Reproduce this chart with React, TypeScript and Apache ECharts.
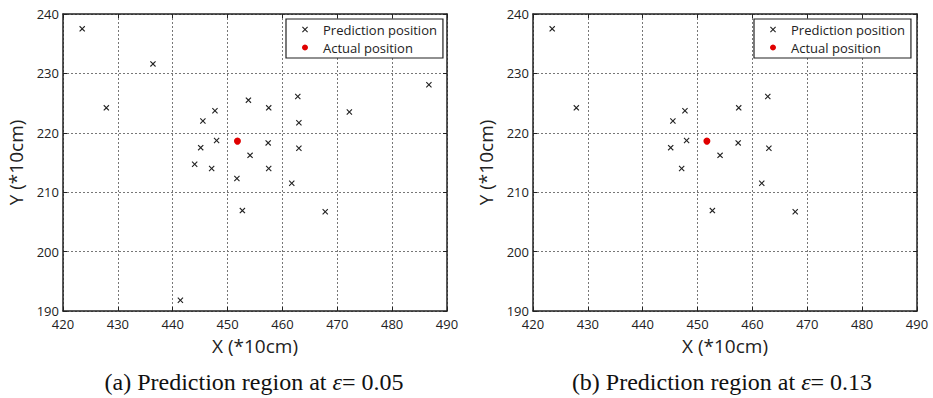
import React, { useEffect, useRef } from "react";
import * as echarts from "echarts";

const xTicks = [420, 430, 440, 450, 460, 470, 480, 490];
const yTicks = [190, 200, 210, 220, 230, 240];

const predictionsA: [number, number][] = [
  [423.5, 237.5], [436.4, 231.6], [427.9, 224.2], [445.5, 222.0], [447.7, 223.7],
  [453.8, 225.5], [457.5, 224.2], [462.8, 226.1], [463.0, 221.7], [472.2, 223.5],
  [486.7, 228.1], [445.1, 217.5], [448.0, 218.7], [454.1, 216.2], [457.4, 218.3],
  [463.0, 217.4], [444.0, 214.7], [447.1, 214.0], [457.5, 214.0], [451.7, 212.3],
  [461.7, 211.5], [452.7, 206.9], [467.8, 206.7], [441.4, 191.8],
];
const predictionsB: [number, number][] = [
  [423.5, 237.5], [427.9, 224.2], [445.5, 222.0], [447.7, 223.7], [457.5, 224.2],
  [462.8, 226.1], [445.1, 217.5], [448.0, 218.7], [454.1, 216.2], [457.4, 218.3],
  [463.0, 217.4], [447.1, 214.0], [461.7, 211.5], [452.7, 206.9], [467.8, 206.7],
];
const actualA: [number, number][] = [[451.8, 218.6]];
const actualB: [number, number][] = [[451.7, 218.6]];

const captions = ["(a) Prediction region at ", "(b) Prediction region at "];
const epsValues = ["0.05", "0.13"];

const X_MARK = "path://M0,1.3L1.3,0L5,3.7L8.7,0L10,1.3L6.3,5L10,8.7L8.7,10L5,6.3L1.3,10L0,8.7L3.7,5Z";
const SANS = "'Open Sans', 'DejaVu Sans', sans-serif";
const SERIF = "'Liberation Serif', 'DejaVu Serif', serif";

export default function App() {
  const ref = useRef<HTMLDivElement>(null);
  useEffect(() => {
    if (!ref.current) return;
    const chart = echarts.init(ref.current, null, { renderer: "svg" });
    const grids = [
      { left: 63, right: 486, top: 14, bottom: 87 },
      { left: 533, right: 16, top: 14, bottom: 87 },
    ];
    const gridLine = { show: true, lineStyle: { color: "#777", type: [2, 2] as any, width: 1 } };
    const mkX = (gi: number, pos: "bottom" | "top") => ({
      type: "value",
      gridIndex: gi,
      position: pos,
      min: 420,
      max: 490,
      interval: 10,
      name: pos === "bottom" ? "X (*10cm)" : "",
      nameLocation: "middle",
      nameGap: 25,
      nameTextStyle: { fontFamily: SANS, fontSize: 19, color: "#222" },
      axisLine: { show: true, onZero: false, lineStyle: { color: "#222", width: 1.5 } },
      axisTick: { show: true, inside: true, length: 4, lineStyle: { color: "#222" } },
      axisLabel: {
        show: pos === "bottom",
        margin: 6,
        fontFamily: SANS,
        fontSize: 13,
        color: "#222",
        formatter: (v: number) => (xTicks.includes(v) ? String(v) : ""),
      },
      splitLine: pos === "bottom" ? gridLine : { show: false },
    });
    const mkY = (gi: number, pos: "left" | "right") => ({
      type: "value",
      gridIndex: gi,
      position: pos,
      min: 190,
      max: 240,
      interval: 10,
      name: pos === "left" ? "Y (*10cm)" : "",
      nameLocation: "middle",
      nameGap: 38,
      nameTextStyle: { fontFamily: SANS, fontSize: 19, color: "#222" },
      axisLine: { show: true, onZero: false, lineStyle: { color: "#222", width: 1.5 } },
      axisTick: { show: true, inside: true, length: 4, lineStyle: { color: "#222" } },
      axisLabel: {
        show: pos === "left",
        margin: 4,
        fontFamily: SANS,
        fontSize: 13,
        color: "#222",
        formatter: (v: number) => (yTicks.includes(v) ? String(v) : ""),
      },
      splitLine: pos === "left" ? gridLine : { show: false },
    });
    const mkLegend = (left: number) => ({
      left,
      top: 19,
      orient: "vertical",
      backgroundColor: "#fff",
      borderColor: "#222",
      borderWidth: 1.2,
      borderRadius: 0,
      padding: [3, 6, 3, 16],
      itemGap: 3,
      itemWidth: 6,
      itemHeight: 6,
      textStyle: { fontFamily: SANS, fontSize: 13, color: "#222", padding: [0, 0, 0, 10], lineHeight: 15 },
      data: [
        { name: "Prediction position", icon: X_MARK, itemStyle: { color: "#222" } },
        { name: "Actual position", icon: "circle", itemStyle: { color: "#e00000" } },
      ],
      selectedMode: false,
    });
    const predSeries = (data: [number, number][], idx: number) => ({
      type: "scatter",
      name: "Prediction position",
      xAxisIndex: idx,
      yAxisIndex: idx,
      data,
      symbol: X_MARK,
      symbolSize: 6,
      itemStyle: { color: "#222", opacity: 1 },
      z: 3,
    });
    const actSeries = (data: [number, number][], idx: number) => ({
      type: "scatter",
      name: "Actual position",
      xAxisIndex: idx,
      yAxisIndex: idx,
      data,
      symbol: "circle",
      symbolSize: 7,
      itemStyle: { color: "#e00000", opacity: 1 },
      z: 4,
    });
    const captionText = (i: number, cx: number) => ({
      type: "text",
      x: cx,
      y: 382,
      style: {
        text: captions[i] + "{e|ε}= " + epsValues[i],
        textAlign: "center",
        textVerticalAlign: "middle",
        fontFamily: SERIF,
        fontSize: 24,
        fill: "#111",
        rich: {
          e: { fontFamily: SERIF, fontSize: 24, fontStyle: "italic", fill: "#111" },
        },
      },
    });
    chart.setOption({
      animation: false,
      backgroundColor: "#fff",
      grid: grids.map((g) => ({ ...g, show: false, containLabel: false })),
      xAxis: [mkX(0, "bottom"), mkX(0, "top"), mkX(1, "bottom"), mkX(1, "top")],
      yAxis: [mkY(0, "left"), mkY(0, "right"), mkY(1, "left"), mkY(1, "right")],
      legend: [mkLegend(286), mkLegend(754)],
      series: [
        predSeries(predictionsA, 0),
        actSeries(actualA, 0),
        predSeries(predictionsB, 2),
        actSeries(actualB, 2),
      ],
      graphic: [captionText(0, 254), captionText(1, 722)],
    });
    return () => chart.dispose();
  }, []);
  return (
    <div
      ref={ref}
      style={{ position: "fixed", left: 0, top: 0, width: 933, height: 398, background: "#fff" }}
    />
  );
}
